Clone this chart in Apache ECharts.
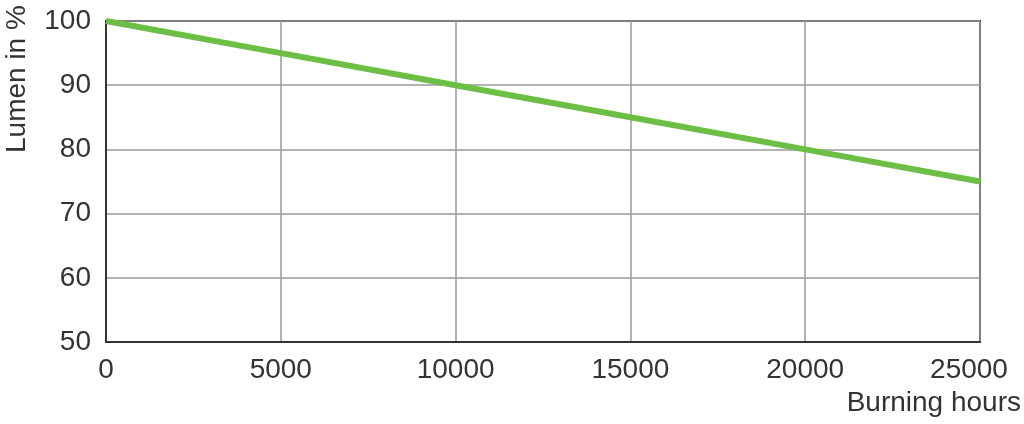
<!DOCTYPE html>
<html><head><meta charset="utf-8">
<script src="https://cdn.jsdelivr.net/npm/echarts@6/dist/echarts.min.js"></script>
<style>html,body{margin:0;padding:0;background:#fff}#c{width:1024px;height:424px}</style>
</head><body><div id="c"></div>
<script>
const hours = [0, 5000, 10000, 15000, 20000, 25000];
const lumen = [100, 95, 90, 85, 80, 75];
const xTicks = [0, 5000, 10000, 15000, 20000, 25000];
const yTicks = [50, 60, 70, 80, 90, 100];
const xName = 'Burning hours';
const yName = 'Lumen in %';

const chart = echarts.init(document.getElementById('c'));
const font = 'Liberation Sans, Arial, sans-serif';
const xMax = xTicks[xTicks.length-1];
chart.setOption({
  animation: false,
  grid: {left: 106, right: 44, top: 21, bottom: 82, show: true, borderColor: '#333', borderWidth: 2, backgroundColor: '#fff'},
  xAxis: {
    type: 'value', min: xTicks[0], max: xMax, interval: 5000,
    axisLine: {show: true, lineStyle: {color: '#333', width: 2}},
    axisTick: {show: false},
    axisLabel: {
      color: '#333', fontSize: 28, fontFamily: font, margin: 14,
      formatter: v => v === xMax ? '{last|' + v + '}' : String(v),
      rich: {last: {color: '#333', fontSize: 28, fontFamily: font, padding: [0, 22, 0, 0]}}
    },
    splitLine: {show: true, lineStyle: {color: '#9a9a9a', width: 1.5}}
  },
  yAxis: {
    type: 'value', min: yTicks[0], max: yTicks[yTicks.length-1], interval: 10,
    axisLine: {show: true, lineStyle: {color: '#333', width: 2}},
    axisTick: {show: false},
    axisLabel: {color: '#333', fontSize: 28, fontFamily: font, margin: 15},
    splitLine: {show: true, lineStyle: {color: '#9a9a9a', width: 1.5}}
  },
  graphic: [
    {type: 'text', x: 1021, y: 403, style: {text: xName, fill: '#333', fontSize: 28, fontFamily: font, align: 'right', verticalAlign: 'middle'}},
    {type: 'text', x: 17, y: 153, rotation: Math.PI/2, style: {text: yName, fill: '#333', fontSize: 28, fontFamily: font, align: 'left', verticalAlign: 'middle'}}
  ],
  series: [{
    type: 'line', data: hours.map((h,i)=>[h, lumen[i]]), symbol: 'none',
    lineStyle: {color: '#6abf44', width: 6}
  }]
});
</script></body></html>
